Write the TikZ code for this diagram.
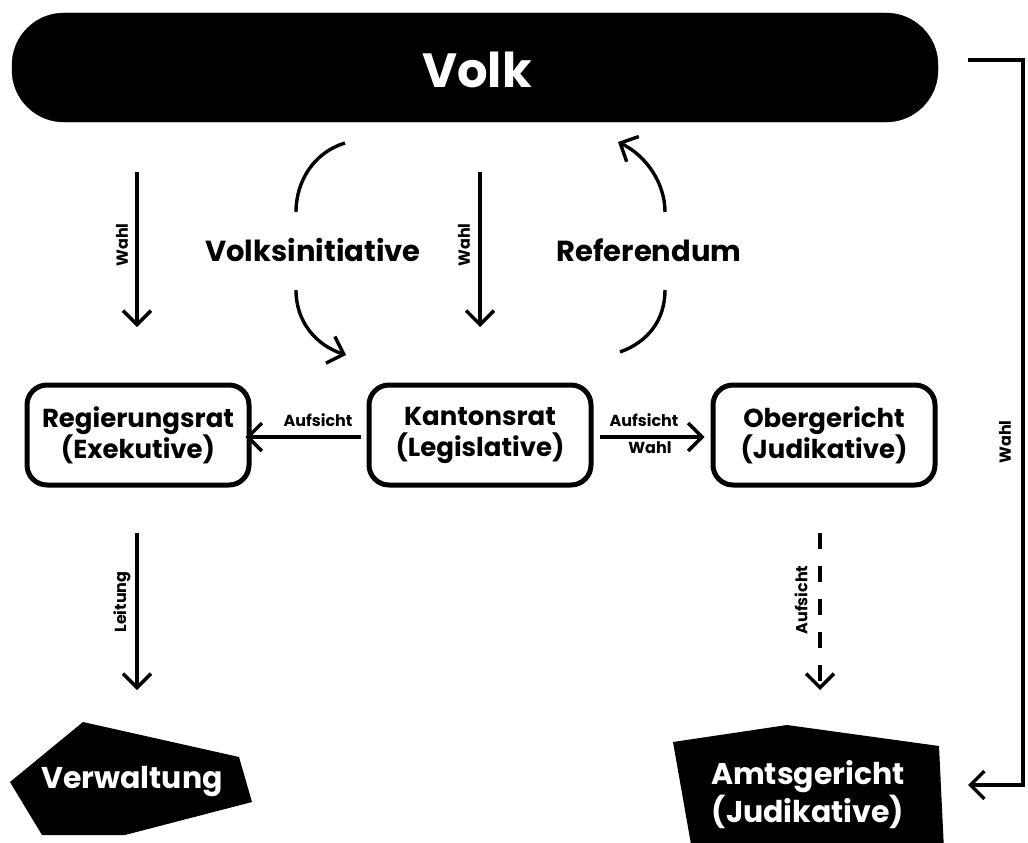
\documentclass[tikz,border=0pt]{standalone}
\usepackage{fontspec}
\setmainfont{Poppins}
\usetikzlibrary{arrows.meta}
\begin{document}
\begin{tikzpicture}[x=1pt,y=-1pt,
  conn/.style={line width=3.4pt, -{Straight Barb[length=14pt,width=28pt]}},
  plain/.style={line width=3.4pt},
  boxnode/.style={draw, line width=5pt, rounded corners=20pt, minimum width=222pt, minimum height=100pt,
     align=center, font=\fontsize{26}{31}\selectfont\bfseries, inner sep=0pt},
  biglabel/.style={font=\fontsize{29}{32}\selectfont\bfseries, inner sep=0pt},
  smalllabel/.style={font=\fontsize{16}{18}\selectfont\bfseries, inner sep=1pt},
  vlabel/.style={smalllabel, rotate=90},
  blob/.style={fill=black, draw=none}
]
\useasboundingbox (0,0) rectangle (1028,843);

% Volk bar
\filldraw[black, rounded corners=52pt] (12,13) rectangle (938,122);
\node[text=white, font=\fontsize{48}{50}\selectfont\bfseries, inner sep=0pt] (volk) at (477,70) {Volk};

% boxes
\node[boxnode] (reg) at (138,435) {Regierungsrat\\(Exekutive)};
\node[boxnode] (kan) at (480,435) {Kantonsrat\\(Legislative)};
\node[boxnode] (ober) at (824,435) {Obergericht\\(Judikative)};

% vertical Wahl arrows
\coordinate (w1s) at (137,172);
\coordinate (w1e) at (137,327);
\coordinate (w2s) at (480,172);
\coordinate (w2e) at (480,327);
\draw[conn] (w1s) -- (w1e);
\draw[conn] (w2s) -- (w2e);
\node[vlabel] (lw1) at (122,245) {Wahl};
\node[vlabel] (lw2) at (464,245) {Wahl};

% Volksinitiative
\node[biglabel] (vi) at (313,250) {Volksinitiative};
\coordinate (vi1) at (345,143);
\coordinate (vi2) at (296,212);
\coordinate (vi3) at (296,290);
\coordinate (vi4) at (346,355);
\draw[plain] (vi1) .. controls (315,152) and (296,180) .. (vi2);
\draw[conn] (vi3) .. controls (296,322) and (316,345) .. (vi4);

% Referendum
\node[biglabel] (ref) at (649,250) {Referendum};
\coordinate (re1) at (620,352);
\coordinate (re2) at (665,290);
\coordinate (re3) at (665,212);
\coordinate (re4) at (618,142);
\draw[plain] (re1) .. controls (648,342) and (665,320) .. (re2);
\draw[conn] (re3) .. controls (665,182) and (645,155) .. (re4);

% horizontal arrows
\draw[conn] ([xshift=-6pt,yshift=-2pt]kan.west) coordinate (a1s) -- ([xshift=-6pt,yshift=-2pt]reg.east) coordinate (a1e);
\node[smalllabel, anchor=south] (la1) at (318,428) {Aufsicht};
\draw[conn] ([xshift=6pt,yshift=-2pt]kan.east) coordinate (a2s) -- ([xshift=-6pt,yshift=-2pt]ober.west) coordinate (a2e);
\node[smalllabel, anchor=south] (la2) at (644,428) {Aufsicht};
\node[smalllabel, anchor=north] (la3) at (650,440) {Wahl};

% Leitung
\coordinate (l1s) at (137,533);
\coordinate (l1e) at (137,690);
\draw[conn] (l1s) -- (l1e);
\node[vlabel] (ll) at (122,602) {Leitung};

% dashed Aufsicht
\coordinate (d1s) at (820,533);
\coordinate (d1e) at (820,690);
\draw[conn, dash pattern=on 16pt off 17pt] (d1s) -- (d1e);
\node[vlabel] (ld) at (801,600) {Aufsicht};

% Verwaltung
\fill[blob] (83,722) -- (239,757) -- (252,802) -- (125,835) -- (42,835) -- (10,782) -- cycle;
\node[text=white, font=\fontsize{30}{34}\selectfont\bfseries, inner sep=0pt] (verw) at (132,782) {Verwaltung};

% Amtsgericht
\fill[blob] (673,742) -- (787,725) -- (939,746) -- (944,850) -- (692,850) -- cycle;
\node[text=white, align=center, font=\fontsize{30}{38}\selectfont\bfseries, inner sep=0pt] (amt) at (808,795) {Amtsgericht\\(Judikative)};

% right Wahl line
\coordinate (r1) at (968,60);
\coordinate (r2) at (1023,60);
\coordinate (r3) at (1023,785);
\coordinate (r4) at (968,785);
\draw[conn] (r1) -- (r2) -- (r3) -- (r4);
\node[vlabel] (lr) at (1005,442) {Wahl};
\end{tikzpicture}
\end{document}
